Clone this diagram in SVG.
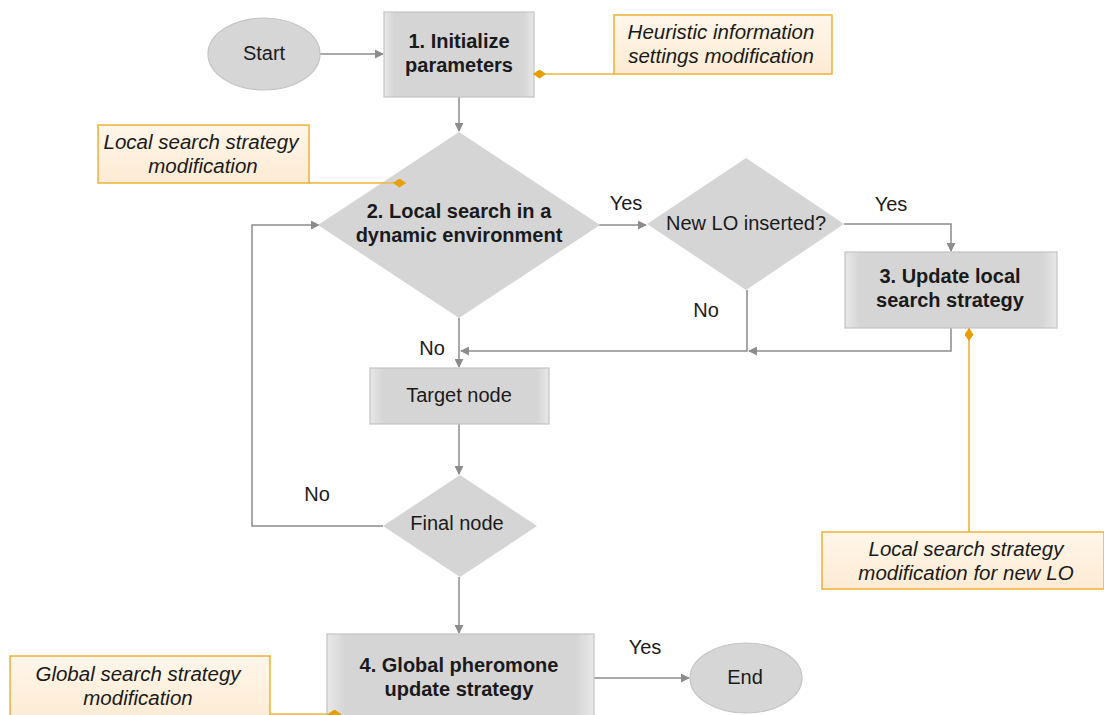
<svg xmlns="http://www.w3.org/2000/svg" width="1104" height="715" viewBox="0 0 1104 715">
  <defs>
    <linearGradient id="boxFill" x1="0" y1="0" x2="1" y2="0">
      <stop offset="0" stop-color="#e8e8e8"/>
      <stop offset="0.07" stop-color="#d5d5d5"/>
      <stop offset="0.93" stop-color="#d5d5d5"/>
      <stop offset="1" stop-color="#e8e8e8"/>
    </linearGradient>
    <linearGradient id="noteFill" x1="0" y1="0" x2="0" y2="1">
      <stop offset="0" stop-color="#fff6ea"/>
      <stop offset="1" stop-color="#fdebd3"/>
    </linearGradient>
    <marker id="arrow" viewBox="0 0 10 10" refX="9" refY="5" markerWidth="9" markerHeight="9" markerUnits="userSpaceOnUse" orient="auto">
      <path d="M0,0 L10,5 L0,10 Z" fill="#8c8c8c"/>
    </marker>
    <marker id="dot" viewBox="0 0 13 9" refX="13" refY="4.5" markerWidth="13" markerHeight="9" markerUnits="userSpaceOnUse" orient="auto">
      <path d="M0,4.5 L6.5,0 L13,4.5 L6.5,9 Z" fill="#e8a000"/>
    </marker>
  </defs>
  <style>
    .node { fill: url(#boxFill); stroke: #c4c4c4; stroke-width: 1.2; }
    .term { fill: #d6d6d6; stroke: #c4c4c4; stroke-width: 1.2; }
    .dec { fill: #d5d5d5; stroke: none; }
    .note { fill: url(#noteFill); stroke: #efb03a; stroke-width: 1.5; }
    .conn { fill: none; stroke: #8c8c8c; stroke-width: 1.5; }
    .link { fill: none; stroke: #f0b43c; stroke-width: 1.6; }
    text { font-family: "Liberation Sans", Arial, sans-serif; font-size: 20px; fill: #1a1a1a; text-anchor: middle; }
    .b { font-weight: bold; }
    .i { font-style: italic; font-size: 20.5px; }
  </style>

  <!-- flow connectors -->
  <g id="connectors">
    <path class="conn" d="M320,54 H383" marker-end="url(#arrow)"/>
    <path class="conn" d="M459,97 V131" marker-end="url(#arrow)"/>
    <path class="conn" d="M599,225 H646" marker-end="url(#arrow)"/>
    <path class="conn" d="M844,224 H951 V251" marker-end="url(#arrow)"/>
    <path class="conn" d="M951,328 V351 H749" marker-end="url(#arrow)"/>
    <path class="conn" d="M747,290 V351 H461" marker-end="url(#arrow)"/>
    <path class="conn" d="M459,318 V367" marker-end="url(#arrow)"/>
    <path class="conn" d="M459,424 V474" marker-end="url(#arrow)"/>
    <path class="conn" d="M383,526 H252 V225 H319" marker-end="url(#arrow)"/>
    <path class="conn" d="M459,577 V633" marker-end="url(#arrow)"/>
    <path class="conn" d="M594,678 H689" marker-end="url(#arrow)"/>
  </g>

  <!-- edge labels -->
  <g id="edge-labels">
    <text x="626" y="210">Yes</text>
    <text x="891" y="211">Yes</text>
    <text x="706" y="317">No</text>
    <text x="432" y="355">No</text>
    <text x="317" y="501">No</text>
    <text x="645" y="654">Yes</text>
  </g>

  <g id="start">
    <ellipse class="term" cx="264" cy="54" rx="56" ry="36"/>
    <text x="264" y="60">Start</text>
  </g>

  <g id="init">
    <rect class="node" x="384" y="12" width="150" height="85"/>
    <text class="b" x="459" y="48">1. Initialize</text>
    <text class="b" x="459" y="72">parameters</text>
  </g>

  <g id="note-heuristic">
    <rect class="note" x="614" y="15" width="218" height="59"/>
    <text class="i" x="721" y="39">Heuristic information</text>
    <text class="i" x="721" y="63">settings modification</text>
  </g>

  <g id="note-local">
    <rect class="note" x="98" y="125" width="211" height="58"/>
    <text class="i" x="201" y="149">Local search strategy</text>
    <text class="i" x="203" y="173">modification</text>
  </g>

  <g id="local-search">
    <path class="dec" d="M459,132 L600,225 L459,318 L318,225 Z"/>
    <text class="b" x="459" y="218">2. Local search in a</text>
    <text class="b" x="459" y="242">dynamic environment</text>
  </g>

  <g id="new-lo">
    <path class="dec" d="M746,158 L844,224 L746,290 L647,224 Z"/>
    <text x="746" y="230">New LO inserted?</text>
  </g>

  <g id="update-local">
    <rect class="node" x="845" y="252" width="212" height="76"/>
    <text class="b" x="950" y="283">3. Update local</text>
    <text class="b" x="950" y="307">search strategy</text>
  </g>

  <g id="target">
    <rect class="node" x="370" y="368" width="179" height="56"/>
    <text x="459" y="402">Target node</text>
  </g>

  <g id="final">
    <path class="dec" d="M460,475 L537,526 L460,577 L383,526 Z"/>
    <text x="457" y="530">Final node</text>
  </g>

  <g id="note-new-lo">
    <rect class="note" x="822" y="532" width="282" height="57"/>
    <text class="i" x="966" y="556">Local search strategy</text>
    <text class="i" x="966" y="580">modification for new LO</text>
  </g>

  <g id="global">
    <rect class="node" x="327" y="634" width="267" height="90"/>
    <text class="b" x="459" y="672">4. Global pheromone</text>
    <text class="b" x="459" y="696">update strategy</text>
  </g>

  <g id="note-global">
    <rect class="note" x="10" y="656" width="260" height="65"/>
    <text class="i" x="138" y="681">Global search strategy</text>
    <text class="i" x="138" y="705">modification</text>
  </g>

  <g id="end">
    <ellipse class="term" cx="746" cy="678" rx="56" ry="35"/>
    <text x="745" y="684">End</text>
  </g>

  <!-- annotation links, drawn over the nodes they point at -->
  <g id="annotation-links">
    <path class="link" d="M614,74 H533" marker-end="url(#dot)"/>
    <path class="link" d="M309,183 H406" marker-end="url(#dot)"/>
    <path class="link" d="M969,532 V328" marker-end="url(#dot)"/>
    <path class="link" d="M270,714 H341" marker-end="url(#dot)"/>
  </g>
</svg>
